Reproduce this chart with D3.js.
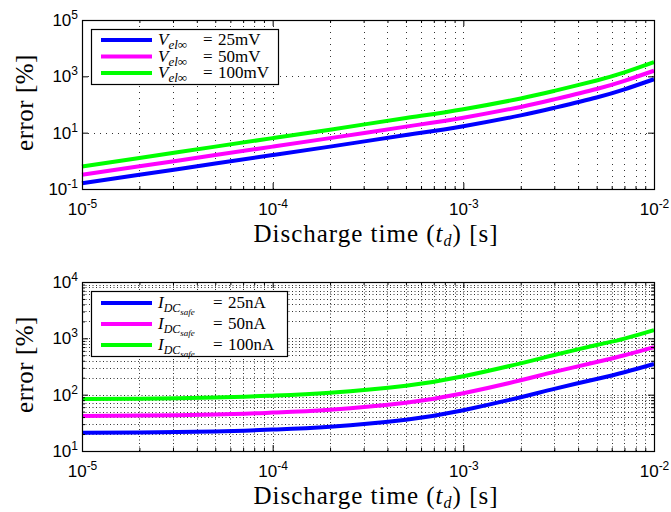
<!DOCTYPE html>
<html>
<head>
<meta charset="utf-8">
<script src="https://cdn.jsdelivr.net/npm/d3@7"></script>
<style>
  body { margin: 0; background: #fff; }
</style>
</head>
<body>
<div id="chart"></div>
<script>
// Discharge times (s) at which the curves were read
var times = [1e-5, 2e-5, 5e-5, 1e-4, 2e-4, 5e-4, 1e-3, 2e-3, 3e-3, 5e-3, 7e-3, 1e-2];

// Top panel: error [%] for V_el_inf
var err25mV  = [0.16, 0.32, 0.80, 1.6, 3.2, 8.2, 17, 41, 76, 178, 345, 790];
var err50mV  = [0.32, 0.64, 1.6, 3.2, 6.4, 16.4, 34, 82, 152, 356, 690, 1580];
var err100mV = [0.63, 1.27, 3.2, 6.4, 12.8, 33, 68, 164, 304, 712, 1380, 3200];

// Bottom panel: error [%] for I_DC_safe
var err25nA  = [21, 21.3, 22.2, 24, 27, 36, 53, 90, 127, 190, 250, 350];
var err50nA  = [42, 42.6, 44.4, 48, 54, 72, 106, 180, 254, 380, 500, 700];
var err100nA = [84, 85, 89, 96, 108, 144, 212, 360, 505, 760, 990, 1400];

var topLabels = ["25mV", "50mV", "100mV"];
var bottomLabels = ["25nA", "50nA", "100nA"];

// tick exponents
var xTickExp = [-5, -4, -3, -2];
var topYTickExp = [-1, 1, 3, 5];
var bottomYTickExp = [1, 2, 3, 4];

var colors = ["#0000ff", "#ff00ff", "#00ff00"];

var svgWidth = 671;
var svgHeight = 512;

var svg = d3.select("#chart")
  .append("svg")
  .attr("width", svgWidth)
  .attr("height", svgHeight);

var sansFont = "'Liberation Sans', Arial, sans-serif";
var serifFont = "'Liberation Serif', 'Times New Roman', serif";

// put "10" plus superscript exponent into a tick label
function powerLabel(text) {
  text.each(function(d) {
    var e = Math.round(Math.log10(d));
    var t = d3.select(this).text("");
    t.append("tspan").text("10");
    t.append("tspan")
      .attr("dy", -7)
      .attr("font-size", 12)
      .text(e < 0 ? "-" + Math.abs(e) : e);
  });
}

function drawPanel(cfg) {
  var left = 82, width = 572;
  var g = svg.append("g")
    .attr("transform", `translate(${left}, ${cfg.top})`);

  var x = d3.scaleLog()
    .domain([1e-5, 1e-2])
    .range([0, width]);

  var y = d3.scaleLog()
    .domain(cfg.yDomain)
    .range([cfg.height, 0]);

  var xMajor = xTickExp.map(e => Math.pow(10, e));
  var yMajor = cfg.yExp.map(e => Math.pow(10, e));
  var xAll = x.ticks();
  var yAll = y.ticks();
  var xMinor = xAll.filter(v => xMajor.every(m => Math.abs(v / m - 1) > 1e-6));
  var yMinor = yAll.filter(v => yMajor.every(m => Math.abs(v / m - 1) > 1e-6));

  // dotted grid
  var grid = g.append("g")
    .attr("stroke", "#333")
    .attr("stroke-width", 1)
    .attr("stroke-dasharray", cfg.dash);

  grid.selectAll(".vgrid")
    .data(xAll.filter(v => v > 1e-5 * 1.0001 && v < 1e-2 * 0.9999))
    .enter().append("line")
    .attr("x1", d => Math.round(x(d)) + 0.5)
    .attr("x2", d => Math.round(x(d)) + 0.5)
    .attr("y1", 0)
    .attr("y2", cfg.height);

  var hVals = cfg.minorH ? yAll : yMajor;
  grid.selectAll(".hgrid")
    .data(hVals.filter(v => v > cfg.yDomain[0] * 1.0001 && v < cfg.yDomain[1] * 0.9999))
    .enter().append("line")
    .attr("x1", 0)
    .attr("x2", width)
    .attr("y1", d => Math.round(y(d)) + 0.5)
    .attr("y2", d => Math.round(y(d)) + 0.5);

  // curves
  var line = d3.line()
    .x(d => x(d[0]))
    .y(d => y(d[1]))
    .curve(d3.curveNatural);

  cfg.series.forEach(function(vals, i) {
    g.append("path")
      .datum(times.map((t, k) => [t, vals[k]]))
      .attr("fill", "none")
      .attr("stroke", colors[i])
      .attr("stroke-width", 4)
      .attr("d", line);
  });

  // axes: major ticks with labels, minor ticks, mirrored on top/right
  function styleAxis(sel) {
    sel.select(".domain").remove();
    sel.selectAll("line").attr("stroke", "#000");
  }

  g.append("g")
    .attr("transform", `translate(0, ${cfg.height})`)
    .call(d3.axisBottom(x).tickValues(xMajor).tickSizeInner(-6).tickSizeOuter(0).tickPadding(14).tickFormat(""))
    .call(styleAxis)
    .call(a => a.selectAll("text")
      .attr("font-family", sansFont)
      .attr("font-size", 17)
      .call(powerLabel));

  g.append("g")
    .attr("transform", `translate(0, ${cfg.height})`)
    .call(d3.axisBottom(x).tickValues(xMinor).tickSizeInner(-3).tickSizeOuter(0).tickFormat(""))
    .call(styleAxis);

  g.append("g")
    .call(d3.axisTop(x).tickValues(xMajor).tickSizeInner(-6).tickSizeOuter(0).tickFormat(""))
    .call(styleAxis);
  g.append("g")
    .call(d3.axisTop(x).tickValues(xMinor).tickSizeInner(-3).tickSizeOuter(0).tickFormat(""))
    .call(styleAxis);

  g.append("g")
    .call(d3.axisLeft(y).tickValues(yMajor).tickSizeInner(-6).tickSizeOuter(0).tickPadding(4).tickFormat(""))
    .call(styleAxis)
    .call(a => a.selectAll("text")
      .attr("font-family", sansFont)
      .attr("font-size", 17)
      .call(powerLabel));

  g.append("g")
    .attr("transform", `translate(${width}, 0)`)
    .call(d3.axisRight(y).tickValues(yMajor).tickSizeInner(-6).tickSizeOuter(0).tickFormat(""))
    .call(styleAxis);

  if (cfg.minorH) {
    g.append("g")
      .call(d3.axisLeft(y).tickValues(yMinor).tickSizeInner(-3).tickSizeOuter(0).tickFormat(""))
      .call(styleAxis);
    g.append("g")
      .attr("transform", `translate(${width}, 0)`)
      .call(d3.axisRight(y).tickValues(yMinor).tickSizeInner(-3).tickSizeOuter(0).tickFormat(""))
      .call(styleAxis);
  }

  // frame
  g.append("rect")
    .attr("x", 0.5)
    .attr("y", 0.5)
    .attr("width", width)
    .attr("height", cfg.height)
    .attr("fill", "none")
    .attr("stroke", "#000")
    .attr("stroke-width", 1.2);

  // axis titles
  var xt = g.append("text")
    .attr("x", width / 2 + 8)
    .attr("y", cfg.height + 53)
    .attr("text-anchor", "middle")
    .attr("font-family", serifFont)
    .attr("font-size", 25)
    .attr("letter-spacing", 1);
  xt.append("tspan").text("Discharge time (");
  xt.append("tspan").attr("font-style", "italic").text("t");
  xt.append("tspan").attr("font-style", "italic").attr("font-size", 16).attr("dy", 4).text("d");
  xt.append("tspan").attr("dy", -4).text(") [s]");

  g.append("text")
    .attr("transform", `translate(-49, ${cfg.height / 2 - 2}) rotate(-90)`)
    .attr("text-anchor", "middle")
    .attr("font-family", serifFont)
    .attr("font-size", 25)
    .attr("letter-spacing", 0.5)
    .text("error [%]");

  // legend
  var lg = g.append("g")
    .attr("transform", `translate(9, ${cfg.legend.top})`);

  lg.append("rect")
    .attr("x", 0.5)
    .attr("y", 0.5)
    .attr("width", cfg.legend.width)
    .attr("height", cfg.legend.height)
    .attr("fill", "#fff")
    .attr("stroke", "#000")
    .attr("stroke-width", 1.2);

  cfg.labels.forEach(function(lab, i) {
    var cy = cfg.legend.first + i * cfg.legend.step;
    lg.append("line")
      .attr("x1", 10)
      .attr("x2", 61)
      .attr("y1", cy)
      .attr("y2", cy)
      .attr("stroke", colors[i])
      .attr("stroke-width", 4);

    var t = lg.append("text")
      .attr("x", 67)
      .attr("y", cy + 5)
      .attr("font-family", serifFont)
      .attr("font-size", 17);
    cfg.symbol(t);
    t.append("tspan").attr("x", cfg.legend.eqX).attr("y", cy + 5).text("=");
    t.append("tspan").attr("x", cfg.legend.eqX + 15).attr("y", cy + 5).text(lab);
  });
}

drawPanel({
  top: 20,
  height: 169,
  yDomain: [1e-1, 1e5],
  yExp: topYTickExp,
  minorH: false,
  dash: "1,5",
  series: [err25mV, err50mV, err100mV],
  labels: topLabels,
  legend: { top: 9, width: 187, height: 55, first: 11, step: 16.5, eqX: 112 },
  symbol: function(t) {
    t.append("tspan").attr("font-style", "italic").text("V");
    t.append("tspan").attr("font-style", "italic").attr("font-size", 13).attr("dy", 4).text("el∞");
  }
});

drawPanel({
  top: 282,
  height: 169,
  yDomain: [1e1, 1e4],
  yExp: bottomYTickExp,
  minorH: true,
  dash: "1,2.5",
  series: [err25nA, err50nA, err100nA],
  labels: bottomLabels,
  legend: { top: 9, width: 196, height: 65, first: 12, step: 21, eqX: 122 },
  symbol: function(t) {
    t.append("tspan").attr("font-style", "italic").text("I");
    t.append("tspan").attr("font-style", "italic").attr("font-size", 12).attr("dy", 4).text("DC");
    t.append("tspan").attr("font-style", "italic").attr("font-size", 9).attr("dy", 3).text("safe");
  }
});
</script>
</body>
</html>
